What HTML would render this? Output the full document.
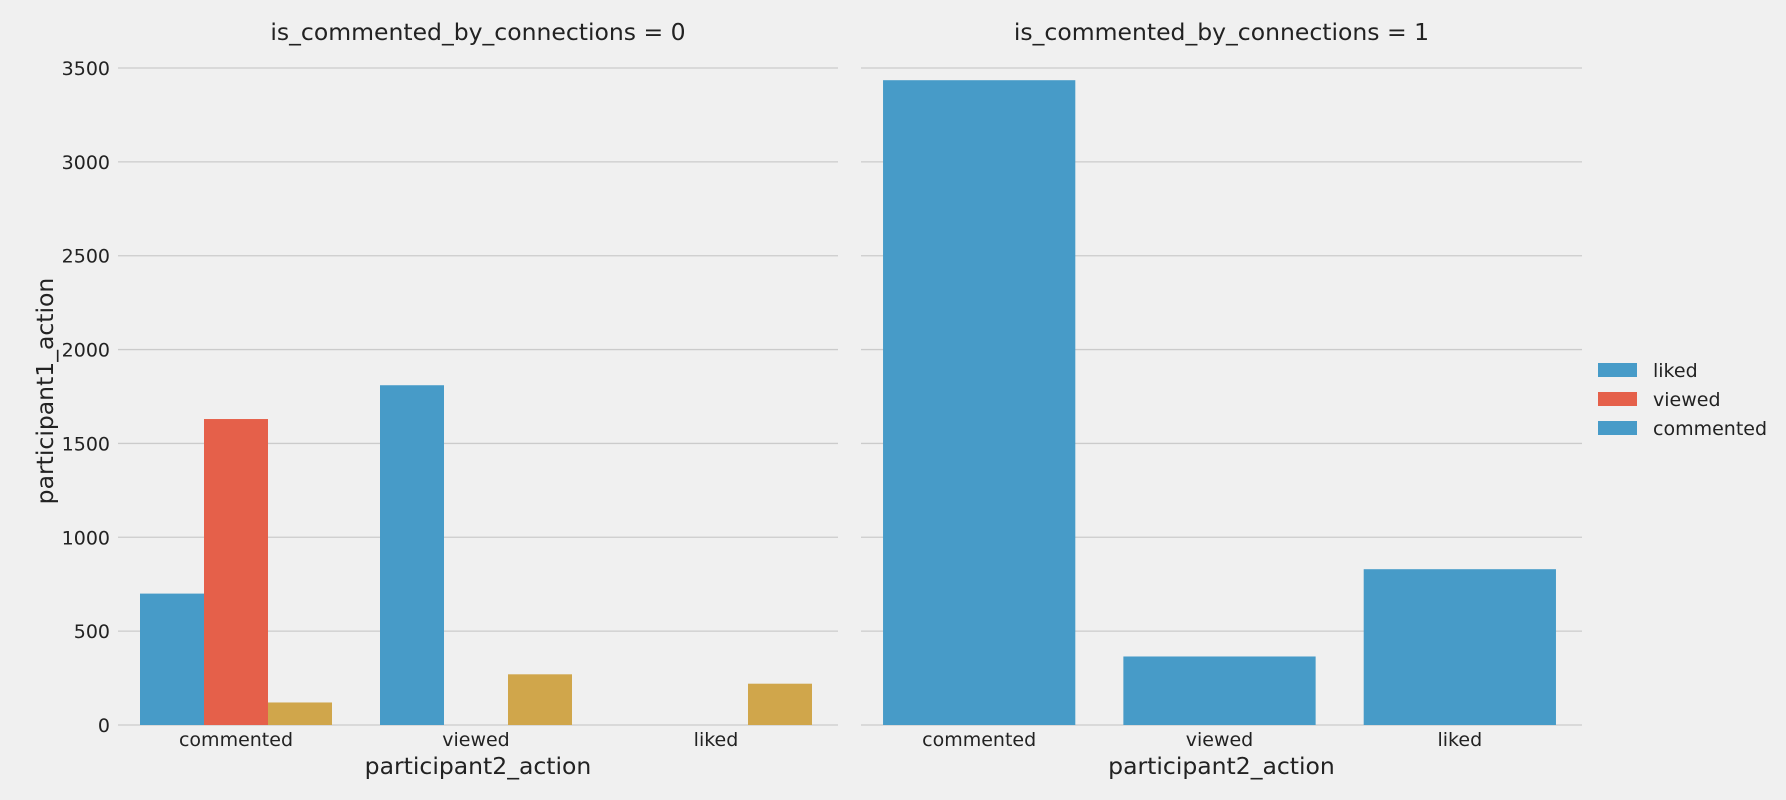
<!DOCTYPE html>
<html><head><meta charset="utf-8"><style>
html,body{margin:0;padding:0;background:#f0f0f0;}
svg{display:block;font-family:"DejaVu Sans","Liberation Sans",sans-serif;}
</style></head><body>
<svg id="chart" width="1786" height="800" viewBox="0 0 1786 800" xmlns="http://www.w3.org/2000/svg">
<rect width="1786" height="800" fill="#f0f0f0"/>
</svg>
<script>
const categories = ["commented","viewed","liked"];
const hues = ["liked","viewed","commented"];
const yTicks = [0,500,1000,1500,2000,2500,3000,3500];
// panel 0 (is_commented_by_connections = 0): values per hue, by category
const p0Liked = [700, 1810, 0];
const p0Viewed = [1630, 0, 0];
const p0Commented = [120, 270, 220];
// panel 1 (is_commented_by_connections = 1): single series
const p1Values = [3435, 365, 830];
const colors = ["#479bc8","#e5604a","#d0a64b"];

const NS = "http://www.w3.org/2000/svg";
const svg = document.getElementById("chart");
function el(tag, attrs, parent){const e=document.createElementNS(NS,tag);for(const k in attrs)e.setAttribute(k,attrs[k]);(parent||svg).appendChild(e);return e;}

const y0 = 725, yTop = 68, yMax = 3500;
function yScale(v){return y0 - (v/yMax)*(y0-yTop);}
const panels = [{x0:118,x1:838,title:"is_commented_by_connections = 0"},{x0:861,x1:1582,title:"is_commented_by_connections = 1"}];
const barShift = -2;

panels.forEach((p,pi)=>{
  const g = el("g",{});
  
  
  yTicks.forEach(t=>{
    const l = el("line",{x1:p.x0,x2:p.x1,y1:yScale(t),y2:yScale(t),stroke:"#cbcbcb","stroke-width":1.3},g);
    
    
    if(pi===0){
      const tx = el("text",{x:110,y:yScale(t)+7,"text-anchor":"end","font-size":19,fill:"#222"},g);
      tx.textContent=t;
      
      
    }
  });
  const band = (p.x1-p.x0)/categories.length;
  categories.forEach((c,ci)=>{
    const cx = p.x0 + band*(ci+0.5) + barShift;
    const tx = el("text",{x:cx,y:746,"text-anchor":"middle","font-size":19,fill:"#222"},g);
    tx.textContent=c;
    
    
    if(pi===0){
      const series=[p0Liked,p0Viewed,p0Commented];
      const w = band*0.8/3;
      series.forEach((s,si)=>{
        const v=s[ci]; if(!v) return;
        const r = el("rect",{x:cx-band*0.4+w*si,y:yScale(v),width:w,height:y0-yScale(v),fill:colors[si]},g);
        
        
      });
    } else {
      const v=p1Values[ci];
      const r = el("rect",{x:cx-band*0.4,y:yScale(v),width:band*0.8,height:y0-yScale(v),fill:colors[0]},g);
      
      
    }
  });
  const t = el("text",{x:(p.x0+p.x1)/2,y:40,"text-anchor":"middle","font-size":23.5,fill:"#222"},g);
  t.textContent=p.title;
  
  
  const xl = el("text",{x:(p.x0+p.x1)/2,y:774,"text-anchor":"middle","font-size":23.5,fill:"#222"},g);
  xl.textContent="participant2_action";
  
  
});
const yl = el("text",{x:0,y:0,"text-anchor":"middle","font-size":23.5,fill:"#222",transform:"translate(53,391) rotate(-90)"});
yl.textContent="participant1_action";



const lg = el("g",{});


hues.forEach((h,i)=>{
  const yy = 363 + i*29;
  const r = el("rect",{x:1598,y:yy,width:39,height:14,fill:colors[i===2?0:i]},lg);
  
  
  const t = el("text",{x:1653,y:yy+14,"font-size":19,fill:"#222"},lg);
  t.textContent=h;
  
  
});
</script>
</body></html>
